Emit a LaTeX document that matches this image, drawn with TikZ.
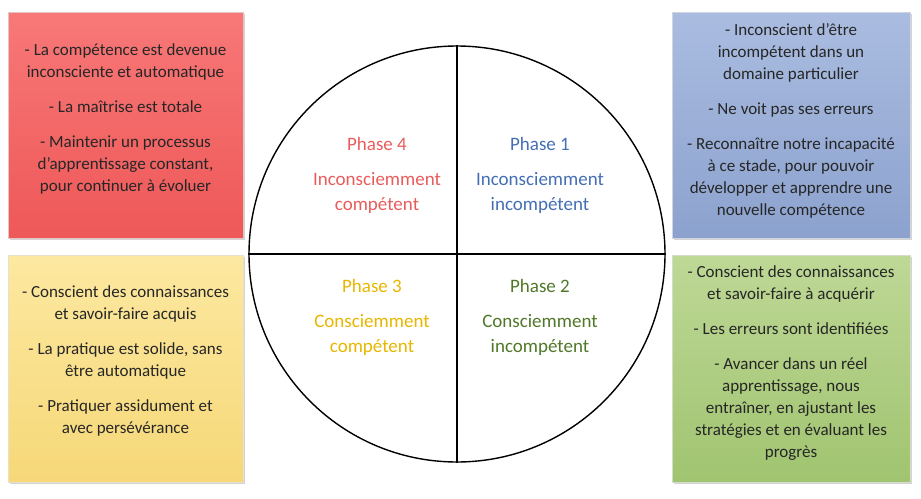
\documentclass[tikz,border=0pt]{standalone}
\usepackage{fontspec}
\setmainfont{Carlito}
\usetikzlibrary{shadows}
\definecolor{redb}{RGB}{238,88,88}
\definecolor{redt}{RGB}{248,120,120}
\definecolor{blueb}{RGB}{140,162,206}
\definecolor{bluet}{RGB}{170,188,224}
\definecolor{yelb}{RGB}{246,216,120}
\definecolor{yelt}{RGB}{252,232,160}
\definecolor{greb}{RGB}{160,196,112}
\definecolor{gret}{RGB}{190,216,150}
\definecolor{pred}{RGB}{232,92,92}
\definecolor{pblue}{RGB}{68,110,180}
\definecolor{pyel}{RGB}{232,182,0}
\definecolor{pgre}{RGB}{80,120,40}
\begin{document}
\begin{tikzpicture}[x=1pt,y=-1pt,
  box/.style={draw=#1!70!black!30!white,line width=0.6pt,drop shadow={opacity=0.35,shadow xshift=2pt,shadow yshift=-2pt}},
  boxtext/.style={align=center,font=\fontsize{17}{22}\selectfont,text=black!85},
  phase/.style={align=center,font=\fontsize{19}{25}\selectfont}]
\useasboundingbox (0,0) rectangle (921,498);
\path[box=redb,top color=redt,bottom color=redb] (8,12) rectangle (243,238);
\path[box=yelb,top color=yelt,bottom color=yelb] (8,255) rectangle (243,482);
\path[box=blueb,top color=bluet,bottom color=blueb] (672,12) rectangle (910,238);
\path[box=greb,top color=gret,bottom color=greb] (672,255) rectangle (910,482);
\node[boxtext] (tr) at (125.5,119) {- La compétence est devenue\\inconsciente et automatique\\[13pt]- La maîtrise est totale\\[13pt]- Maintenir un  processus\\d’apprentissage constant,\\pour continuer à évoluer};
\node[boxtext] (ty) at (125.5,361) {- Conscient des connaissances\\et savoir-faire acquis\\[13pt]- La pratique est solide, sans\\être automatique\\[13pt]- Pratiquer assidument et\\avec persévérance};
\node[boxtext] (tb) at (791,121) {- Inconscient d’être\\incompétent dans un\\domaine particulier\\[13pt]- Ne voit pas ses erreurs\\[13pt]- Reconnaître notre incapacité\\à ce stade, pour pouvoir\\développer et apprendre une\\nouvelle compétence};
\node[boxtext] (tg) at (791,363) {- Conscient des connaissances\\et savoir-faire à acquérir\\[13pt]- Les erreurs sont identifiées\\[13pt]- Avancer dans un réel\\apprentissage, nous\\entraîner, en ajustant les\\stratégies et en évaluant les\\progrès};
\node[draw,line width=1.4pt,circle,minimum size=416pt,inner sep=0] (c) at (457,254) {};
\draw[line width=1.4pt] (c.north) -- (c.south);
\draw[line width=1.4pt] (c.west) -- (c.east);
\node[phase,text=pred] (p4) at (377,175) {Phase 4\\[10pt]Inconsciemment\\compétent};
\node[phase,text=pblue] (p1) at (540,175) {Phase 1\\[10pt]Inconsciemment\\incompétent};
\node[phase,text=pyel] (p3) at (372,317) {Phase 3\\[10pt]Consciemment\\compétent};
\node[phase,text=pgre] (p2) at (540,317) {Phase 2\\[10pt]Consciemment\\incompétent};
\end{tikzpicture}
\end{document}
